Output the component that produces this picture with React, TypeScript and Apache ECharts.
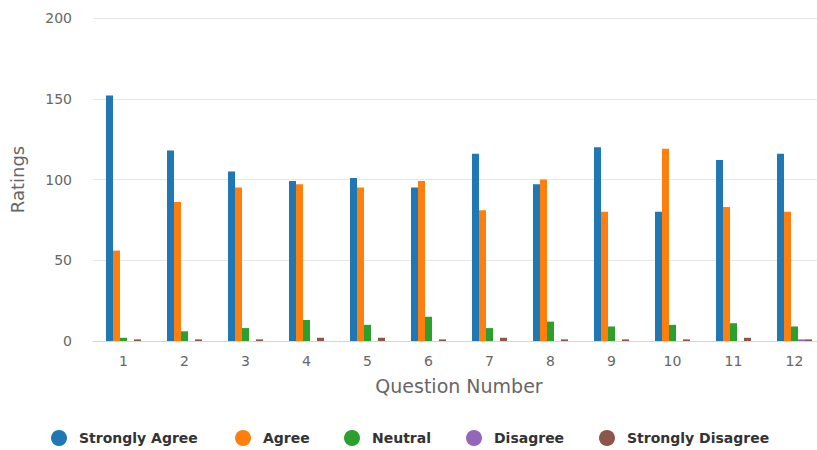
import React, { useEffect, useRef } from "react";
import * as echarts from "echarts";

const questions = ["1", "2", "3", "4", "5", "6", "7", "8", "9", "10", "11", "12"];
const seriesNames = ["Strongly Agree", "Agree", "Neutral", "Disagree", "Strongly Disagree"];
const stronglyAgree = [152, 118, 105, 99, 101, 95, 116, 97, 120, 80, 112, 116];
const agree = [56, 86, 95, 97, 95, 99, 81, 100, 80, 119, 83, 80];
const neutral = [2, 6, 8, 13, 10, 15, 8, 12, 9, 10, 11, 9];
const disagree = [0, 0, 0, 0, 0, 0, 0, 0, 0, 0, 0, 1];
const stronglyDisagree = [1, 1, 1, 2, 2, 1, 2, 1, 1, 1, 2, 1];
const colors = ["#1f77b4", "#ff7f0e", "#2ca02c", "#9467bd", "#8c564b"];
const legendLefts = [46, 230, 339, 461, 594];

export default function App() {
  const ref = useRef<HTMLDivElement>(null);
  useEffect(() => {
    if (!ref.current) return;
    const chart = echarts.init(ref.current, undefined, { renderer: "svg" });
    const values = [stronglyAgree, agree, neutral, disagree, stronglyDisagree];
    const font = "DejaVu Sans";
    chart.setOption({
      animation: false,
      color: colors,
      textStyle: { fontFamily: font },
      grid: { left: 93, top: 18, right: 5, height: 323, containLabel: false },
      legend: seriesNames.map((n, i) => ({
        data: [n],
        left: legendLefts[i],
        top: 425,
        icon: "circle",
        itemWidth: 30,
        itemHeight: 16,
        textStyle: { fontFamily: font, fontSize: 14, fontWeight: "bold", color: "#333333" },
      })),
      xAxis: {
        type: "category",
        data: questions,
        name: "Question Number",
        nameLocation: "middle",
        nameGap: 35,
        nameTextStyle: { fontFamily: font, fontSize: 19, color: "#666666" },
        axisLine: { lineStyle: { color: "#ccd6eb" } },
        axisTick: { length: 10, lineStyle: { color: "#ccd6eb" } },
        axisLabel: { margin: 13, fontFamily: font, fontSize: 14, color: "#666666" },
      },
      yAxis: {
        type: "value",
        min: 0,
        max: 200,
        interval: 50,
        name: "Ratings",
        nameLocation: "middle",
        nameGap: 67,
        nameTextStyle: { fontFamily: font, fontSize: 18, color: "#666666" },
        axisLine: { show: false },
        axisTick: { show: false },
        axisLabel: { margin: 21, fontFamily: font, fontSize: 14, color: "#666666" },
        splitLine: { lineStyle: { color: "#e6e6e6" } },
      },
      series: seriesNames.map((n, i) => ({
        name: n,
        type: "bar",
        data: values[i],
        barWidth: 7,
        barGap: "0%",
        itemStyle: { color: colors[i] },
      })),
    });
    return () => chart.dispose();
  }, []);
  return (
    <div style={{ position: "fixed", left: 0, top: 0, width: 817, height: 450, overflow: "hidden", background: "#ffffff" }}>
      <div ref={ref} style={{ width: 830, height: 450 }} />
    </div>
  );
}
